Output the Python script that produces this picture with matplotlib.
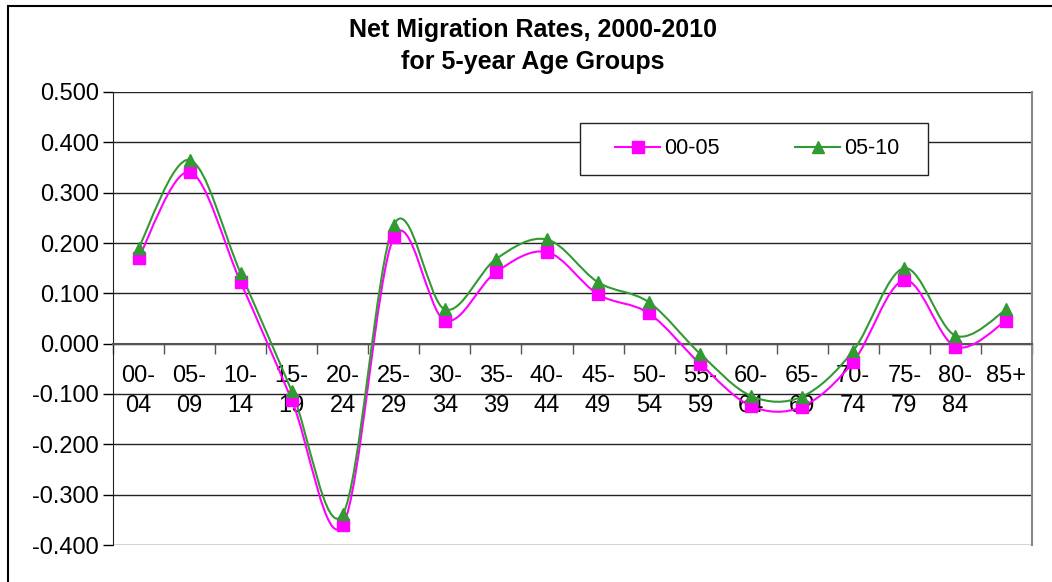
import matplotlib.pyplot as plt
from matplotlib.path import Path
from matplotlib.patches import PathPatch, Rectangle
from matplotlib.lines import Line2D
import numpy as np

plt.rcParams['font.family'] = ['Liberation Sans', 'DejaVu Sans']

# data
groups = ['00-\n04', '05-\n09', '10-\n14', '15-\n19', '20-\n24', '25-\n29', '30-\n34', '35-\n39',
          '40-\n44', '45-\n49', '50-\n54', '55-\n59', '60-\n64', '65-\n69', '70-\n74', '75-\n79',
          '80-\n84', '85+\n']
rate_00_05 = [0.170, 0.341, 0.122, -0.112, -0.361, 0.212, 0.046, 0.142, 0.182,
              0.098, 0.060, -0.040, -0.124, -0.125, -0.036, 0.126, -0.006, 0.046]
rate_05_10 = [0.190, 0.365, 0.140, -0.094, -0.339, 0.236, 0.068, 0.168, 0.207,
              0.122, 0.082, -0.020, -0.104, -0.105, -0.014, 0.150, 0.016, 0.068]
yticks = [-0.4, -0.3, -0.2, -0.1, 0.0, 0.1, 0.2, 0.3, 0.4, 0.5]


def smooth_path(xs, ys):
    # excel-like smoothed line: catmull-rom segments as cubic beziers
    p = np.column_stack([xs, ys])
    p = np.vstack([p[0], p, p[-1]])
    verts = [p[1]]
    codes = [Path.MOVETO]
    for i in range(1, len(p) - 2):
        c1 = p[i] + (p[i + 1] - p[i - 1]) / 6
        c2 = p[i + 1] - (p[i + 2] - p[i]) / 6
        verts += [c1, c2, p[i + 1]]
        codes += [Path.CURVE4] * 3
    return Path(verts, codes)


fig = plt.figure(figsize=(10.52, 5.82), dpi=100)
ax = fig.add_axes([113 / 1052, 1 - 545 / 582, 919 / 1052, 453 / 582])

x = np.arange(len(groups))
ax.add_patch(PathPatch(smooth_path(x, rate_00_05), fill=False, edgecolor='#ff00ff', lw=1.5, zorder=3))
ax.add_patch(PathPatch(smooth_path(x, rate_05_10), fill=False, edgecolor='#339933', lw=1.5, zorder=3))
ax.plot(x, rate_00_05, 's', color='#ff00ff', ms=8, zorder=4)
ax.plot(x, rate_05_10, '^', color='#339933', ms=9, zorder=5)

ax.set_xlim(-0.5, len(groups) - 0.5)
ax.set_ylim(-0.4, 0.5)
ax.set_yticks(yticks)
ax.set_yticklabels(['%.3f' % v for v in yticks])
for v in yticks:
    ax.axhline(v, color='#222222', lw=1.0, zorder=1)

ax.set_xticks(x)
ax.set_xticklabels(groups)
ax.set_xticks(np.arange(len(groups) + 1) - 0.5, minor=True)
ax.tick_params(axis='x', which='major', length=0, pad=15, labelsize=17)
ax.tick_params(axis='x', which='minor', length=7, direction='out', width=1, color='#555555')
ax.tick_params(axis='y', length=7, direction='out', width=1, pad=3, labelsize=17)

ax.spines['bottom'].set_position(('data', 0))
ax.spines['bottom'].set_color('#555555')
ax.spines['bottom'].set_linewidth(1.5)
ax.spines['left'].set_color('#222222')
ax.spines['right'].set_color('#888888')
ax.spines['right'].set_linewidth(1.5)
ax.spines['top'].set_visible(False)

# legend box
ax.add_patch(Rectangle((0.508, 0.8168), 0.379, 0.1148, transform=ax.transAxes,
                       facecolor='white', edgecolor='#222222', lw=1.0, zorder=2.5))
handles = [Line2D([], [], color='#ff00ff', lw=1.5, marker='s', ms=8),
           Line2D([], [], color='#339933', lw=1.5, marker='^', ms=9)]
ax.legend(handles, ['00-05', '05-10'], ncol=2, fontsize=15.5, frameon=False,
          bbox_to_anchor=(0.508 + 0.379 / 2 + 0.0038, 0.8168 + 0.1148 / 2), loc='center',
          borderaxespad=0, borderpad=0, handlelength=2.09, handletextpad=0.19, columnspacing=3.5)

fig.text(533 / 1052, 1 - 30 / 582, 'Net Migration Rates, 2000-2010', ha='center', va='center',
         fontsize=18, fontweight='bold')
fig.text(533 / 1052, 1 - 62 / 582, 'for 5-year Age Groups', ha='center', va='center',
         fontsize=18, fontweight='bold')

fig.patches.append(Rectangle((8 / 1052, -0.1), 1.1, 1 - 6 / 582 + 0.1, transform=fig.transFigure,
                             fill=False, edgecolor='black', lw=1.5))

fig.canvas.draw()
for tick in ax.xaxis.get_major_ticks():
    tick.label1.set_linespacing(1.5)

fig.savefig('out.png', dpi=100)
